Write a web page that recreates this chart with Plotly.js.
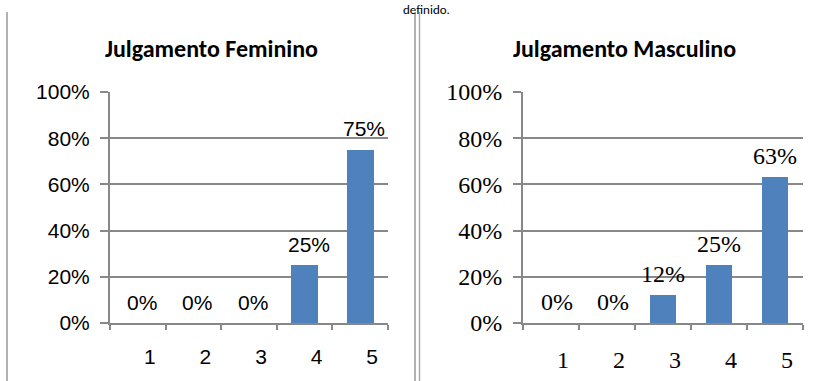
<!DOCTYPE html>
<html>
<head>
<meta charset="utf-8">
<script src="https://cdn.plot.ly/plotly-3.0.1.min.js"></script>
<style>html,body{margin:0;padding:0;background:#fff;}#chart{width:821px;height:381px;}</style>
</head>
<body>
<div id="chart"></div>
<script>
// ---- data ----
var categories = ["1", "2", "3", "4", "5"];
var femValues = [0, 0, 0, 0.25, 0.75];
var femLabels = ["0%", "0%", "0%", "25%", "75%"];
var mascValues = [0, 0, 0.12, 0.25, 0.63];
var mascLabels = ["0%", "0%", "12%", "25%", "63%"];
var femTitle = "Julgamento Feminino";
var mascTitle = "Julgamento Masculino";
var topText = "definido.";

var W = 821, H = 381;
function px(x) { return x / W; }
function py(y) { return 1 - y / H; }

var barColor = "#4F81BD";
var gridColor = "#888888";
function leftFont() { return {family: "Arial, 'Liberation Sans', sans-serif", size: 21, color: "#000000"}; }
function rightFont() { return {family: "'Liberation Serif', 'DejaVu Serif', 'Noto Serif', serif", size: 24, color: "#000000"}; }
var titleFamily = "Calibri, Carlito, Lato, sans-serif";

var traces = [
  {type: "bar", x: categories, y: femValues, xaxis: "x", yaxis: "y",
   marker: {color: barColor}, width: 0.49, hoverinfo: "none"},
  {type: "bar", x: categories, y: mascValues, xaxis: "x2", yaxis: "y2",
   marker: {color: barColor}, width: 0.48, hoverinfo: "none"}
];

function xaxisCfg(domain, anchor, font) {
  return {
    domain: domain, anchor: anchor, type: "category", range: [-0.5, 4.5],
    showgrid: false, showline: true, linecolor: gridColor, linewidth: 2,
    ticks: "outside", tickson: "boundaries", ticklen: 5, tickwidth: 2, tickcolor: gridColor,
    tickfont: font, ticklabelshift: 12, ticklabelstandoff: 14, fixedrange: true
  };
}
function yaxisCfg(domain, anchor, font) {
  return {
    domain: domain, anchor: anchor, range: [0, 1], tickvals: [0, 0.2, 0.4, 0.6, 0.8, 1.0],
    tickformat: ".0%", showgrid: true, gridcolor: gridColor, gridwidth: 2,
    zeroline: false, showline: true, linecolor: gridColor, linewidth: 2,
    ticks: "outside", ticklen: 8, tickwidth: 2, tickcolor: gridColor,
    tickfont: font, ticklabelstandoff: 6, fixedrange: true
  };
}

var yDom = [py(323), py(92)];

var annotations = [];
femValues.forEach(function (v, i) {
  annotations.push({xref: "x", yref: "y", x: i, y: v, text: femLabels[i],
    showarrow: false, yanchor: "middle", yshift: 21, xshift: 4, font: leftFont()});
});
mascValues.forEach(function (v, i) {
  annotations.push({xref: "x2", yref: "y2", x: i, y: v, text: mascLabels[i],
    showarrow: false, yanchor: "middle", yshift: 21, xshift: (v === 0 ? 6 : 0), font: rightFont()});
});
annotations.push({xref: "paper", yref: "paper", x: px(211), y: py(48), text: "<b>" + femTitle + "</b>",
  showarrow: false, xanchor: "center", yanchor: "middle", font: {family: titleFamily, size: 24, color: "#000"}});
annotations.push({xref: "paper", yref: "paper", x: px(624), y: py(48), text: "<b>" + mascTitle + "</b>",
  showarrow: false, xanchor: "center", yanchor: "middle", font: {family: titleFamily, size: 24, color: "#000"}});
annotations.push({xref: "paper", yref: "paper", x: px(426), y: 1, text: topText,
  showarrow: false, xanchor: "center", yanchor: "top", font: {family: titleFamily, size: 13, color: "#000"}});

var shapes = [
  {type: "line", xref: "paper", yref: "paper", x0: px(7), x1: px(7), y0: py(12), y1: 0, line: {color: "#999", width: 1.5}},
  {type: "line", xref: "paper", yref: "paper", x0: px(415), x1: px(415), y0: py(12), y1: 0, line: {color: "#999", width: 1.5}},
  {type: "line", xref: "paper", yref: "paper", x0: px(419.5), x1: px(419.5), y0: py(12), y1: 0, line: {color: "#aaa", width: 1.5}}
];

var layout = {
  width: W, height: H, margin: {l: 0, r: 0, t: 0, b: 0, pad: 0},
  font: {family: "Arial, 'Liberation Sans', sans-serif"},
  paper_bgcolor: "#fff", plot_bgcolor: "rgba(0,0,0,0)", showlegend: false, bargap: 0,
  xaxis: xaxisCfg([px(110), px(388)], "y", leftFont()),
  yaxis: yaxisCfg(yDom, "x", leftFont()),
  xaxis2: xaxisCfg([px(523), px(803)], "y2", rightFont()),
  yaxis2: yaxisCfg(yDom, "x2", rightFont()),
  annotations: annotations, shapes: shapes
};

Plotly.newPlot("chart", traces, layout, {displayModeBar: false, staticPlot: true});
</script>
</body>
</html>
